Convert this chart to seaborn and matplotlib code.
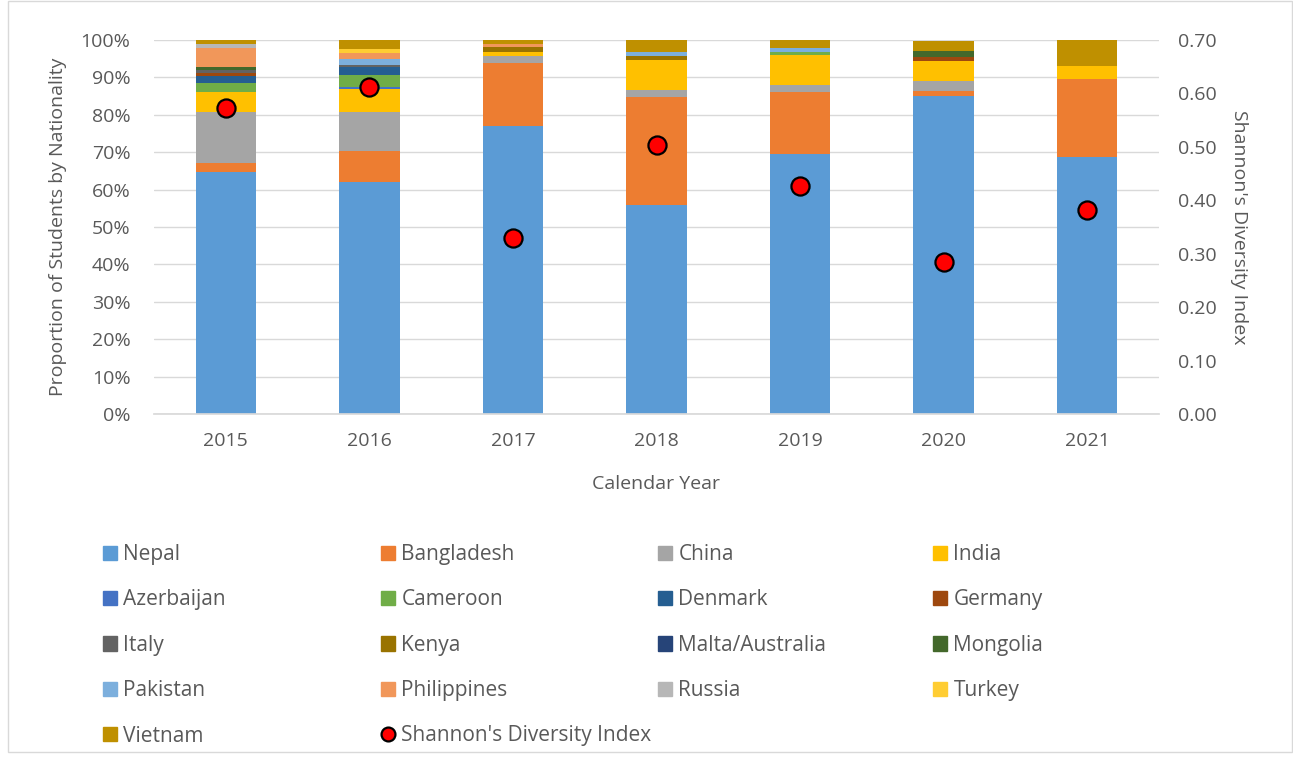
import numpy as np
import matplotlib
matplotlib.use("Agg")
import matplotlib.pyplot as plt
import matplotlib.patches as mpatches
from matplotlib.lines import Line2D
import seaborn as sns

years = ["2015", "2016", "2017", "2018", "2019", "2020", "2021"]

# percent of students per nationality
nepal       = [64.8, 62.1, 77.1, 55.9, 69.5, 85.1, 68.6]
bangladesh  = [2.4, 8.2, 16.8, 28.9, 16.7, 1.3, 20.9]
china       = [13.6, 10.4, 1.8, 1.8, 1.8, 2.6, 0.0]
india       = [5.4, 6.1, 1.2, 8.1, 8.0, 5.4, 3.5]
azerbaijan  = [0.0, 0.7, 0.0, 0.0, 0.0, 0.0, 0.0]
cameroon    = [2.2, 3.1, 0.0, 0.0, 0.9, 0.0, 0.0]
denmark     = [2.0, 2.1, 0.0, 0.0, 0.0, 0.0, 0.0]
germany     = [0.9, 0.0, 0.0, 0.0, 0.0, 1.1, 0.0]
italy       = [0.7, 0.6, 0.0, 0.0, 0.0, 0.0, 0.0]
kenya       = [0.0, 0.0, 1.1, 1.0, 0.0, 0.0, 0.0]
malta       = [0.0, 0.0, 0.0, 0.0, 0.0, 0.0, 0.0]
mongolia    = [0.9, 0.0, 0.0, 0.0, 0.0, 1.6, 0.0]
pakistan    = [0.0, 1.5, 0.0, 1.1, 1.0, 0.0, 0.0]
philippines = [5.0, 1.6, 0.9, 0.0, 0.0, 0.0, 0.0]
russia      = [0.9, 0.0, 0.0, 0.0, 0.0, 0.0, 0.0]
turkey      = [0.0, 1.1, 0.0, 0.0, 0.0, 0.0, 0.0]
vietnam     = [1.1, 2.5, 1.1, 3.2, 2.1, 2.6, 7.0]

shannon = [0.573, 0.612, 0.329, 0.503, 0.427, 0.285, 0.382]

series = [
    ("Nepal", nepal, "#5B9BD5"),
    ("Bangladesh", bangladesh, "#ED7D31"),
    ("China", china, "#A5A5A5"),
    ("India", india, "#FFC000"),
    ("Azerbaijan", azerbaijan, "#4472C4"),
    ("Cameroon", cameroon, "#70AD47"),
    ("Denmark", denmark, "#255E91"),
    ("Germany", germany, "#9E480E"),
    ("Italy", italy, "#636363"),
    ("Kenya", kenya, "#997300"),
    ("Malta/Australia", malta, "#264478"),
    ("Mongolia", mongolia, "#43682B"),
    ("Pakistan", pakistan, "#7CAFDD"),
    ("Philippines", philippines, "#F1975A"),
    ("Russia", russia, "#B7B7B7"),
    ("Turkey", turkey, "#FFCD33"),
    ("Vietnam", vietnam, "#BF9000"),
]

sns.set_theme(style="white")
plt.rcParams['font.family'] = ['Open Sans', 'DejaVu Sans']
txt = "#595959"
fs = 14

W, H = 1293, 758
fig = plt.figure(figsize=(W / 100, H / 100), dpi=100)
ax = fig.add_axes([154 / W, 1 - 414 / H, 1005 / W, 374 / H])

cum = np.zeros(len(years))
for name, vals, col in series:
    sns.barplot(x=years, y=vals, bottom=cum, color=col, saturation=1,
                width=0.42, errorbar=None, ax=ax, zorder=2,
                linewidth=0, edgecolor="none")
    cum = cum + np.array(vals)

ax.set_xlim(-0.5, 6.5)
ax.set_ylim(0, 100)
ax.set_yticks(np.arange(0, 101, 10))
ax.set_yticklabels([f"{v}%" for v in range(0, 101, 10)])
ax.yaxis.grid(True, color="#D9D9D9", lw=1)
ax.set_axisbelow(True)
for s in ["top", "left", "right"]:
    ax.spines[s].set_visible(False)
ax.spines["bottom"].set_color("#D9D9D9")
ax.tick_params(axis="y", length=0, pad=17, labelsize=fs, colors=txt)
ax.tick_params(axis="x", length=0, pad=13, labelsize=fs, colors=txt)
ax.set_xlabel("Calendar Year", fontsize=fs, color=txt, va="center")
ax.xaxis.set_label_coords(0.5, -0.186)
ax.set_ylabel("Proportion of Students by Nationality", fontsize=fs, color=txt, va="center")
ax.yaxis.set_label_coords(-0.0955, 0.5)

ax2 = ax.twinx()
sns.scatterplot(x=years, y=shannon, ax=ax2, color="#FF0000", s=170,
                edgecolor="black", linewidth=1.6, zorder=5)
ax2.set_ylim(0, 0.70)
ax2.set_yticks(np.arange(0, 0.71, 0.1))
ax2.set_yticklabels([f"{v:.2f}" for v in np.arange(0, 0.71, 0.1)])
for s in ["top", "left", "right", "bottom"]:
    ax2.spines[s].set_visible(False)
ax2.tick_params(axis="y", length=0, pad=14, labelsize=fs, colors=txt)
ax2.set_ylabel("Shannon's Diversity Index", fontsize=fs, color=txt, rotation=270, va="center")
ax2.yaxis.set_label_coords(1.08, 0.5)

# legend: four columns placed by hand, row-wise order as in the chart
lfs = 15
entries = [(mpatches.Patch(color=c), n) for n, _, c in series]
entries.append((Line2D([], [], marker="o", ls="", markerfacecolor="#FF0000",
                       markeredgecolor="black", markeredgewidth=1.6, markersize=10),
                "Shannon's Diversity Index"))
col_x = [103, 381, 658, 933]
for c in range(4):
    items = entries[c::4]
    fig.legend([h for h, _ in items], [l for _, l in items],
               loc="upper left", bbox_to_anchor=(col_x[c] / W, 1 - 544 / H),
               frameon=False, fontsize=lfs, labelcolor=txt, borderpad=0,
               borderaxespad=0, handlelength=0.68, handleheight=0.68,
               handletextpad=0.3, labelspacing=1.17)

fig.add_artist(mpatches.Rectangle((8 / W, 6 / H), 1284 / W, 1 - 7 / H,
                                  transform=fig.transFigure, fill=False,
                                  edgecolor="#D9D9D9", lw=1))

fig.savefig("out.png", dpi=100)
